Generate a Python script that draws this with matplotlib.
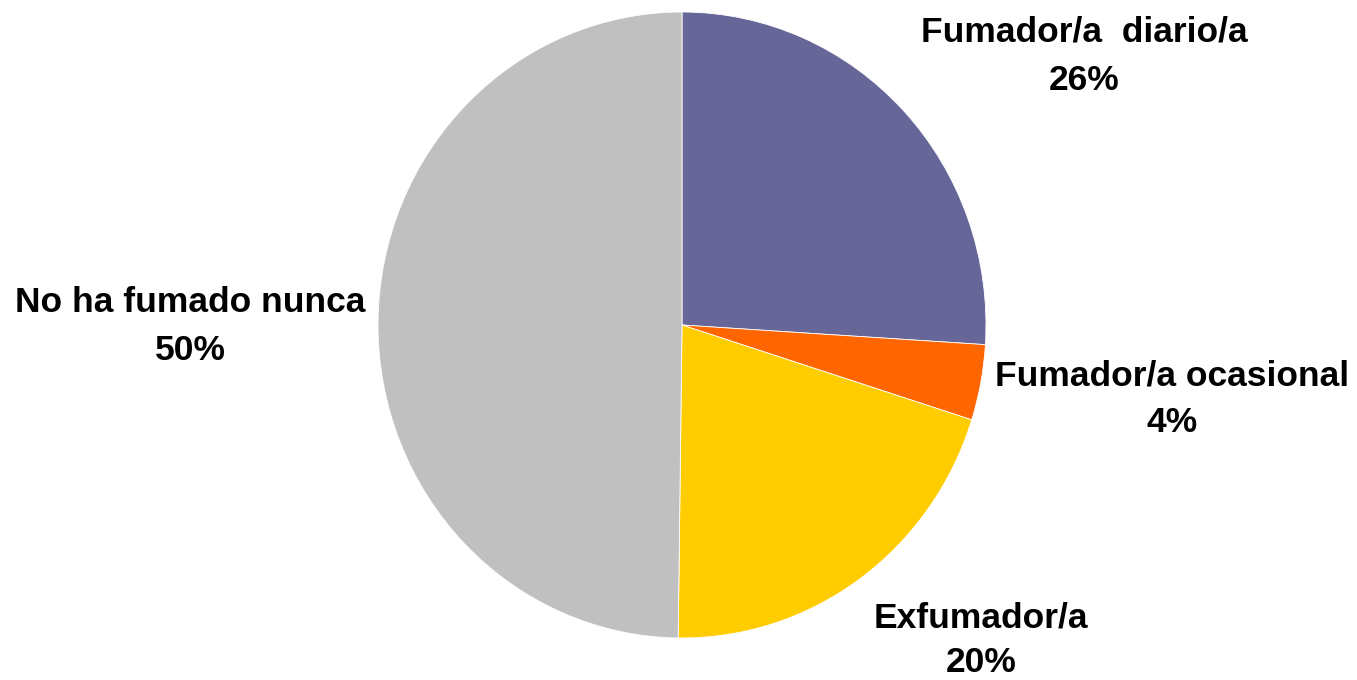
import matplotlib.pyplot as plt

# Datos
categorias = ["Fumador/a  diario/a", "Fumador/a ocasional", "Exfumador/a", "No ha fumado nunca"]
valores = [26.0, 3.9, 20.3, 49.8]
etiquetas_pct = ["26%", "4%", "20%", "50%"]
colores = ['#666699', '#FF6600', '#FFCC00', '#C0C0C0']

# posiciones de las etiquetas (pixeles de la imagen: x centro, y linea 1, y linea 2)
pos_etiquetas = [(1084, 32, 80), (1172, 376, 423), (981, 618, 663), (190, 303, 351)]

plt.rcParams['font.family'] = ['Liberation Sans', 'DejaVu Sans']

W, H = 1357, 680
cx, cy = 682, 325
rx, ry = 304, 313

fig = plt.figure(figsize=(W / 100, H / 100), dpi=100)
ax = fig.add_axes([0, 0, 1, 1])
ax.pie(valores, colors=colores, startangle=90, counterclock=False,
       wedgeprops=dict(edgecolor='white', linewidth=0.6))
ax.set_aspect('auto')
ax.set_xlim(-cx / rx, (W - cx) / rx)
ax.set_ylim(-(H - cy) / ry, cy / ry)
ax.axis('off')

def a_datos(px, py):
    return (px - cx) / rx, (cy - py) / ry

for cat, pct, (px, py1, py2) in zip(categorias, etiquetas_pct, pos_etiquetas):
    x, y = a_datos(px, py1)
    ax.text(x, y, cat, ha='center', va='center', fontsize=25.5, fontweight='bold')
    x, y = a_datos(px, py2)
    ax.text(x, y, pct, ha='center', va='center', fontsize=25.5, fontweight='bold')

fig.savefig('out.png', dpi=100)
